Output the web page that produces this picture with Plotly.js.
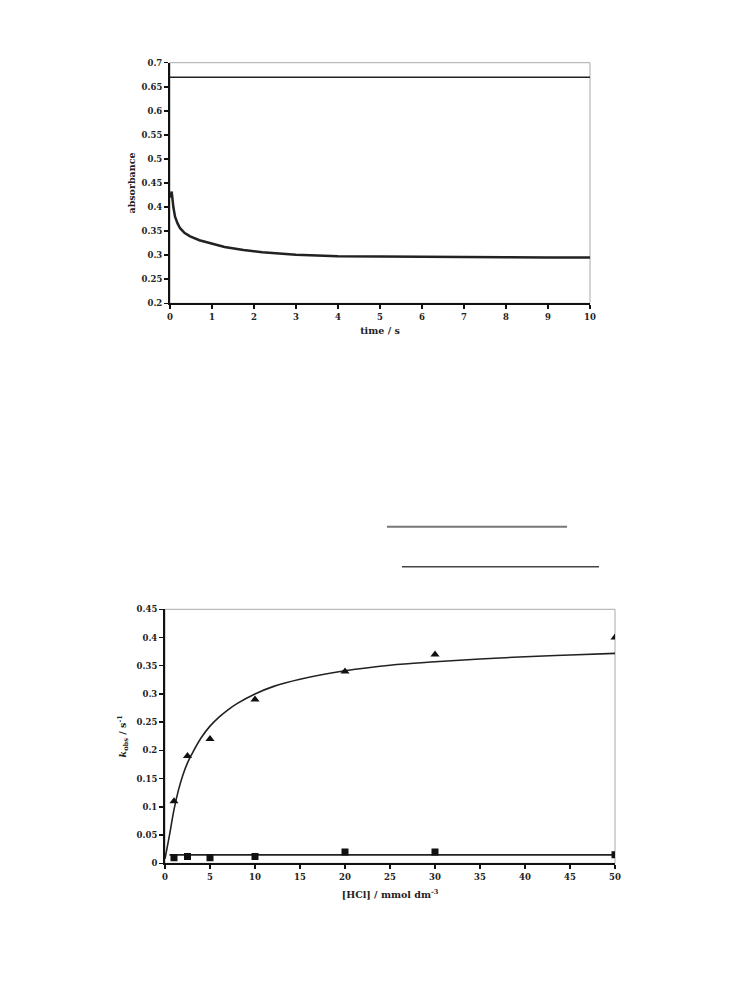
<!DOCTYPE html>
<html><head><meta charset="utf-8">
<script src="https://cdn.plot.ly/plotly-3.0.1.min.js"></script>
<style>html,body{margin:0;padding:0;background:#fff}</style>
</head><body><div id="g" style="width:736px;height:1003px"></div>
<script>
// Top chart: absorbance vs time
const topTimeFlat = [0, 10];
const topAbsFlat = [0.67, 0.67];
const decayTime = [0, 0.04, 0.08, 0.12, 0.18, 0.24, 0.35, 0.48, 0.7, 0.95, 1.3, 1.75, 2.2, 3, 4, 5, 6, 7, 8, 9, 10];
const decayAbs  = [0.42, 0.432, 0.400, 0.380, 0.366, 0.356, 0.346, 0.339, 0.331, 0.325, 0.317, 0.311, 0.306, 0.301, 0.298, 0.297, 0.296, 0.2958, 0.2955, 0.2952, 0.295];

// Bottom chart: kobs vs [HCl]
const hcl = [1, 2.5, 5, 10, 20, 30, 50];
const kTriangle = [0.11, 0.19, 0.22, 0.29, 0.34, 0.37, 0.40];
const kSquare   = [0.010, 0.012, 0.010, 0.012, 0.020, 0.020, 0.015];
const fitX = [0, 0.5, 1, 1.5, 2, 2.5, 3, 4, 5, 6, 7, 8, 10, 12, 15, 20, 25, 30, 35, 40, 45, 50];
const fitY = [0.008, 0.05, 0.095, 0.13, 0.157, 0.178, 0.194, 0.222, 0.243, 0.259, 0.272, 0.283, 0.300, 0.313, 0.326, 0.341, 0.351, 0.357, 0.362, 0.366, 0.369, 0.372];
const flatX = [0.5, 50];
const flatY = [0.015, 0.015];

const yTicksTop = [0.2,0.25,0.3,0.35,0.4,0.45,0.5,0.55,0.6,0.65,0.7];
const yTickTextTop = ['0.2','0.25','0.3','0.35','0.4','0.45','0.5','0.55','0.6','0.65','0.7'];
const xTicksTop = [0,1,2,3,4,5,6,7,8,9,10];
const yTicksBot = [0,0.05,0.1,0.15,0.2,0.25,0.3,0.35,0.4,0.45];
const yTickTextBot = ['0','0.05','0.1','0.15','0.2','0.25','0.3','0.35','0.4','0.45'];
const xTicksBot = [0,5,10,15,20,25,30,35,40,45,50];

const W = 736, H = 1003;
const tickFont = {family:'DejaVu Serif', size:8.5, color:'#222', weight:'bold'};
const titleFont = {family:'DejaVu Serif', size:9.5, color:'#222', weight:'bold'};

const traces = [
  {x: topTimeFlat, y: topAbsFlat, xaxis:'x', yaxis:'y', mode:'lines', line:{color:'#222', width:1.5}},
  {x: decayTime, y: decayAbs, xaxis:'x', yaxis:'y', mode:'lines', line:{color:'#222', width:2.5}},
  {x: fitX, y: fitY, xaxis:'x2', yaxis:'y2', mode:'lines', line:{color:'#222', width:1.6, shape:'spline'}},
  {x: flatX, y: flatY, xaxis:'x2', yaxis:'y2', mode:'lines', line:{color:'#222', width:1.6}},
  {x: hcl, y: kTriangle, xaxis:'x2', yaxis:'y2', mode:'markers', marker:{symbol:'triangle-up', size:8, color:'#111'}},
  {x: hcl, y: kSquare, xaxis:'x2', yaxis:'y2', mode:'markers', marker:{symbol:'square', size:7, color:'#111'}}
];

const axBase = {showgrid:false, zeroline:false, showline:true, linecolor:'#111', linewidth:2,
  ticks:'outside', ticklen:4, tickwidth:1.5, tickcolor:'#111', tickfont:tickFont, tickmode:'array', fixedrange:true};

const layout = {
  width: W, height: H, margin:{l:0,r:0,t:0,b:0}, showlegend:false,
  paper_bgcolor:'#fff', plot_bgcolor:'#fff',
  xaxis: Object.assign({}, axBase, {domain:[170/W, 590/W], range:[0,10], tickvals:xTicksTop, anchor:'y',
    title:{text:'time / s', font:titleFont, standoff:7}}),
  yaxis: Object.assign({}, axBase, {domain:[1-303.3/H, 1-62.7/H], range:[0.2,0.7], tickvals:yTicksTop, ticktext:yTickTextTop, anchor:'x',
    title:{text:'absorbance', font:titleFont, standoff:4}}),
  xaxis2: Object.assign({}, axBase, {domain:[165/W, 615/W], range:[0,50], tickvals:xTicksBot, anchor:'y2',
    title:{text:'[HCl] / mmol dm<sup>-3</sup>', font:titleFont, standoff:11}}),
  yaxis2: Object.assign({}, axBase, {domain:[1-863.3/H, 1-609.3/H], range:[0,0.45], tickvals:yTicksBot, ticktext:yTickTextBot, anchor:'x2',
    title:{text:'<i>k</i><sub>obs</sub> / s<sup>-1</sup>', font:titleFont, standoff:8}}),
  shapes: [
    {type:'rect', xref:'x domain', yref:'y domain', x0:0, x1:1, y0:0, y1:1, line:{color:'#aaa', width:1}, layer:'below'},
    {type:'rect', xref:'x2 domain', yref:'y2 domain', x0:0, x1:1, y0:0, y1:1, line:{color:'#aaa', width:1}, layer:'below'},
    {type:'line', xref:'paper', yref:'paper', x0:387/W, x1:567/W, y0:1-526.7/H, y1:1-526.7/H, line:{color:'#777', width:2}},
    {type:'line', xref:'paper', yref:'paper', x0:402/W, x1:599/W, y0:1-566.7/H, y1:1-566.7/H, line:{color:'#444', width:1.5}}
  ]
};

Plotly.newPlot('g', traces, layout, {staticPlot:true, displayModeBar:false});
</script></body></html>
